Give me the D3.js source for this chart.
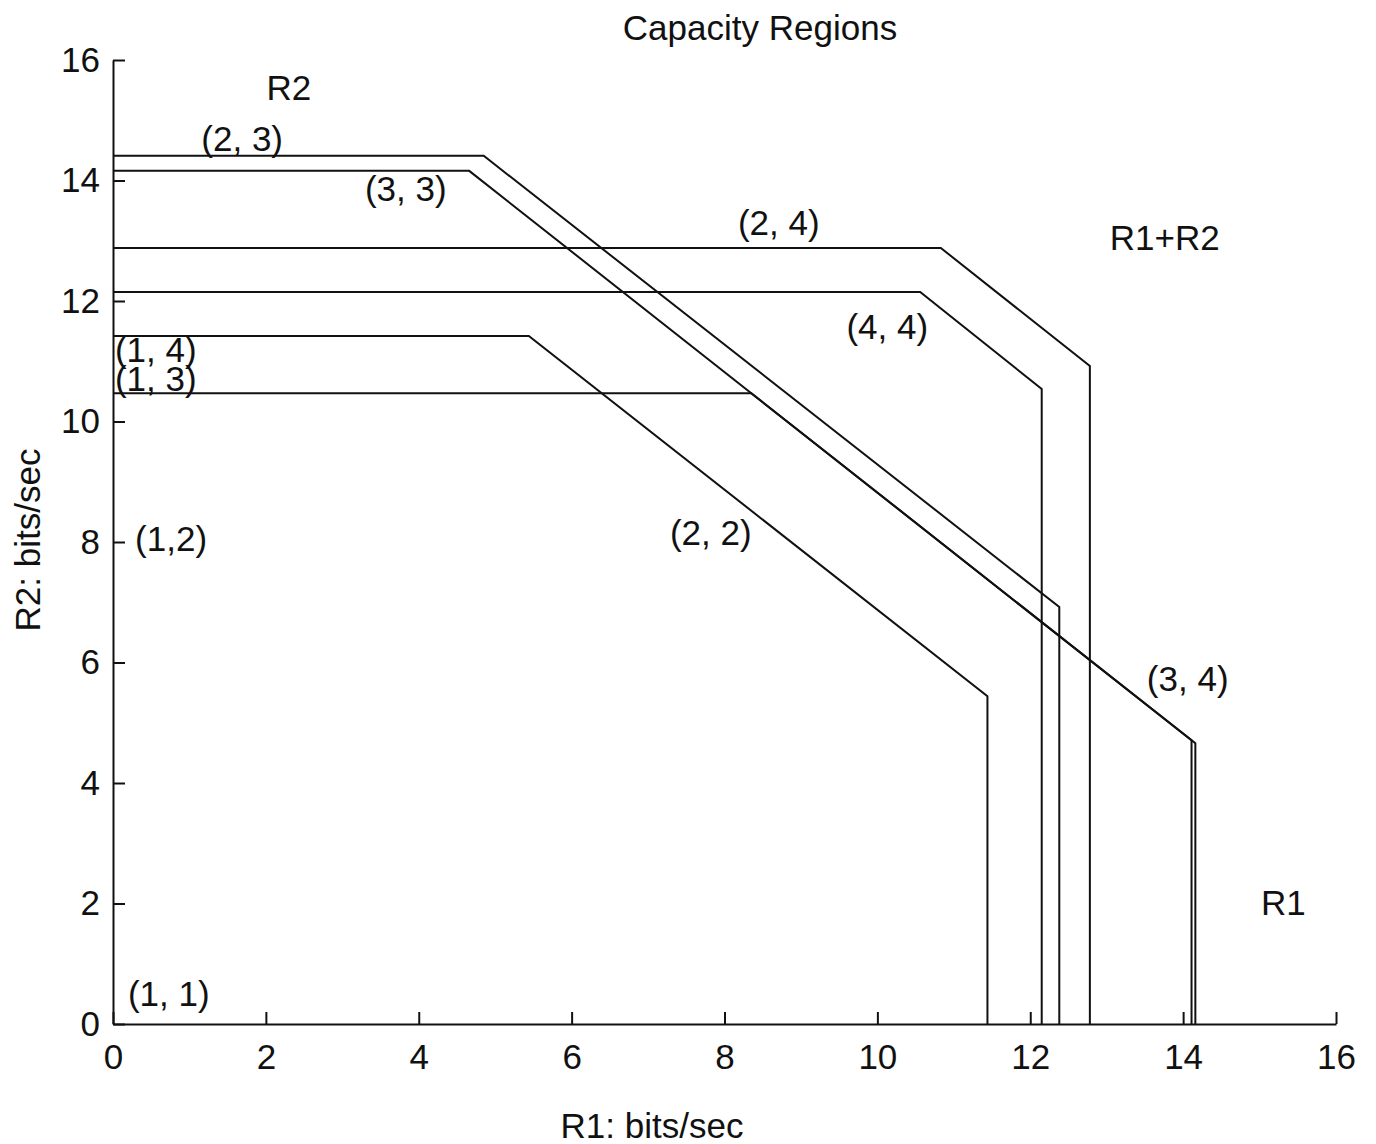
<!DOCTYPE html>
<html>
<head>
<meta charset="utf-8">
<script src="https://cdn.jsdelivr.net/npm/d3@7"></script>
<style>
  html, body { margin: 0; padding: 0; background: #fff; }
  svg text { font-family: "Liberation Sans", Arial, sans-serif; fill: #111; }
</style>
</head>
<body>
<svg id="chart" width="1376" height="1144"></svg>
<script>
// ---- data ----
const xTicks = [0, 2, 4, 6, 8, 10, 12, 14, 16];
const yTicks = [0, 2, 4, 6, 8, 10, 12, 14, 16];

const region23 = [[0, 14.41], [4.85, 14.41], [12.38, 6.92], [12.38, 0]];
const region33 = [[0, 14.16], [4.66, 14.16], [14.16, 4.66], [14.16, 0]];
const region24 = [[0, 12.88], [10.83, 12.88], [12.78, 10.92], [12.78, 0]];
const region44 = [[0, 12.15], [10.56, 12.15], [12.15, 10.54], [12.15, 0]];
const region14 = [[0, 11.42], [5.44, 11.42], [11.44, 5.44], [11.44, 0]];
const region13 = [[0, 10.47], [8.35, 10.47], [14.11, 4.71], [14.11, 0]];
const regions = [region23, region33, region24, region44, region14, region13];

const labelText = ["R2", "(2, 3)", "(3, 3)", "(2, 4)", "R1+R2", "(4, 4)", "(1, 4)", "(1, 3)", "(1,2)", "(2, 2)", "(3, 4)", "R1", "(1, 1)"];
const labelX    = [2.30, 1.69, 3.83, 8.71, 13.76, 10.13, 0.56, 0.56, 0.76, 7.82, 14.06, 15.31, 0.73];
const labelY    = [15.54, 14.69, 13.86, 13.30, 13.05, 11.57, 11.20, 10.72, 8.05, 8.15, 5.74, 2.01, 0.51];

const title = "Capacity Regions";
const xLabel = "R1: bits/sec";
const yLabel = "R2: bits/sec";

// ---- chart ----
const svg = d3.select("#chart");
const x = d3.scaleLinear().domain([0, 16]).range([113, 1336]);
const y = d3.scaleLinear().domain([0, 16]).range([1024, 60]);
const FS = 35;

const xAxis = svg.append("g")
  .attr("transform", `translate(0,${y(0)})`)
  .call(d3.axisBottom(x).tickValues(xTicks).tickFormat(d3.format("d"))
        .tickSizeInner(-12).tickSizeOuter(0).tickPadding(20));
const yAxis = svg.append("g")
  .attr("transform", `translate(${x(0)},0)`)
  .call(d3.axisLeft(y).tickValues(yTicks).tickFormat(d3.format("d"))
        .tickSizeInner(-12).tickSizeOuter(0).tickPadding(13));
[xAxis, yAxis].forEach(g => {
  g.selectAll("path, line").attr("stroke", "#111").attr("stroke-width", 2);
  g.selectAll("text").attr("font-size", FS).attr("font-family", "Liberation Sans, Arial, sans-serif").attr("fill", "#111");
});

const line = d3.line().x(d => x(d[0])).y(d => y(d[1]));
svg.append("g").selectAll("path")
  .data(regions).join("path")
  .attr("d", line)
  .attr("fill", "none")
  .attr("stroke", "#111")
  .attr("stroke-width", 2);

svg.append("g").selectAll("text")
  .data(labelText).join("text")
  .attr("x", (d, i) => x(labelX[i]))
  .attr("y", (d, i) => y(labelY[i]))
  .attr("text-anchor", "middle")
  .attr("dominant-baseline", "central")
  .attr("font-size", FS)
  .text(d => d);

svg.append("text")
  .attr("x", 760).attr("y", 27)
  .attr("text-anchor", "middle").attr("dominant-baseline", "central")
  .attr("font-size", FS).text(title);

svg.append("text")
  .attr("x", 652).attr("y", 1125)
  .attr("text-anchor", "middle").attr("dominant-baseline", "central")
  .attr("font-size", FS).text(xLabel);

svg.append("text")
  .attr("transform", "translate(27,540) rotate(-90)")
  .attr("text-anchor", "middle").attr("dominant-baseline", "central")
  .attr("font-size", FS).text(yLabel);
</script>
</body>
</html>
